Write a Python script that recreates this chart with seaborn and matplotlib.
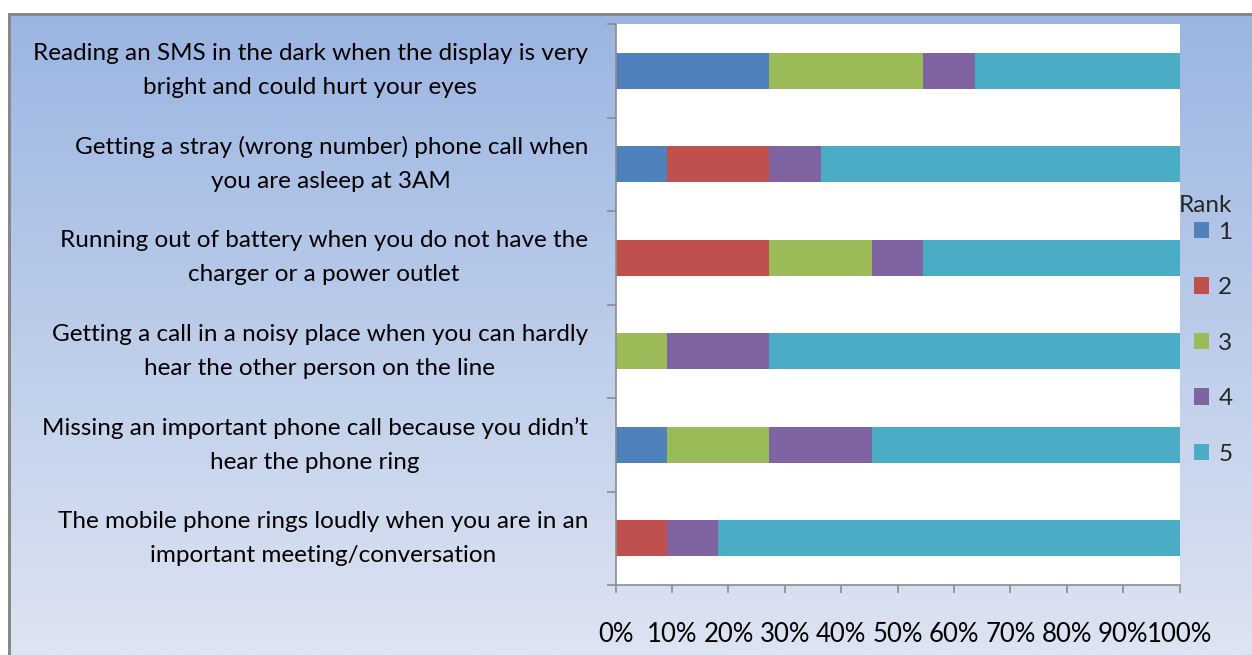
import numpy as np
import pandas as pd
import matplotlib
matplotlib.use("Agg")
import matplotlib.pyplot as plt
from matplotlib.patches import Patch, Rectangle
import seaborn as sns

# Survey situations (top to bottom) and number of respondents giving each rank
situations = [
    "Reading an SMS in the dark when the display is very\nbright and could hurt your eyes",
    "Getting a stray (wrong number) phone call when\nyou are asleep at 3AM",
    "Running out of battery when you do not have the\ncharger or a power outlet",
    "Getting a call in a noisy place when you can hardly\nhear the other person on the line",
    "Missing an important phone call because you didn\u2019t\nhear the phone ring",
    "The mobile phone rings loudly when you are in an\nimportant meeting/conversation",
]
ranks = ["1", "2", "3", "4", "5"]
rank1 = [3, 1, 0, 0, 1, 0]
rank2 = [0, 2, 3, 0, 0, 1]
rank3 = [3, 0, 2, 1, 2, 0]
rank4 = [1, 1, 1, 2, 2, 1]
rank5 = [4, 7, 5, 8, 6, 9]
x_tick_labels = ["0%", "10%", "20%", "30%", "40%", "50%", "60%", "70%", "80%", "90%", "100%"]

colors = ["#4F81BD", "#C0504D", "#9BBB59", "#8064A2", "#4BACC6"]

sns.set_theme(style="white")
plt.rcParams["font.family"] = ["Lato", "DejaVu Sans"]

W, H = 1252, 655
fig = plt.figure(figsize=(W / 100, H / 100), dpi=100)
fig.patch.set_facecolor("white")

# gradient chart-area background with grey frame on the top and left
bg = fig.add_axes([0, 0, 1, 1], zorder=-10)
bg.set_xlim(0, W)
bg.set_ylim(H, 0)
bg.axis("off")
top_c = np.array([0x9B, 0xB5, 0xE2]) / 255
bot_c = np.array([0xDD, 0xE4, 0xF2]) / 255
t = np.linspace(0, 1, 256)[:, None]
grad = (top_c[None, :] * (1 - t) + bot_c[None, :] * t)[:, None, :]
bg.imshow(grad, extent=[9, W, H, 15], aspect="auto", interpolation="bilinear")
bg.add_patch(Rectangle((7.5, 13), 3, H - 13, color="#888888", lw=0))
bg.add_patch(Rectangle((7.5, 13), W - 7.5, 3, color="#888888", lw=0))

# stacked 100% bars
counts = pd.DataFrame({"situation": situations, "1": rank1, "2": rank2,
                       "3": rank3, "4": rank4, "5": rank5})
totals = counts[ranks].sum(axis=1)
shares = counts[ranks].div(totals, axis=0) * 100
cum = shares.cumsum(axis=1)

l, r = 615.7 / W, 1179.6 / W
b, tp = 1 - 585 / H, 1 - 24 / H
ax = fig.add_axes([l, b, r - l, tp - b])
ax.set_facecolor("white")

for rk, col in reversed(list(zip(ranks, colors))):
    df = pd.DataFrame({"situation": situations, "value": cum[rk].values})
    sns.barplot(data=df, y="situation", x="value", orient="h", order=situations,
                color=col, width=0.39, saturation=1, linewidth=0, ax=ax)

n = len(situations)
ax.set_xlim(0, 100)
ax.set_ylim(n - 0.5, -0.5)
ax.set_xlabel("")
ax.set_ylabel("")

for s in ["top", "right"]:
    ax.spines[s].set_visible(False)
for s in ["left", "bottom"]:
    ax.spines[s].set_color("#8C8C8C")
    ax.spines[s].set_linewidth(1.2)

fs = 17.5
ax.set_xticks(np.arange(0, 101, 10))
ax.set_xticklabels(x_tick_labels, fontsize=18.5, color="black")
ax.tick_params(axis="x", which="major", direction="out", length=6, width=1.2,
               color="#8C8C8C", pad=21, bottom=True)

ax.set_yticks(np.arange(n + 1) - 0.5)
ax.set_yticklabels([])
ax.tick_params(axis="y", which="major", direction="out", length=6.5, width=1.2,
               color="#8C8C8C", left=True)
ax.set_yticks(np.arange(n), minor=True)
ax.set_yticklabels(situations, minor=True, fontsize=fs, color="black",
                   multialignment="center", linespacing=1.75, va="center")
ax.tick_params(axis="y", which="minor", length=0, pad=20)

handles = [Patch(facecolor=c, edgecolor="none") for c in colors]
leg = fig.legend(handles, ranks, title="Rank", loc="upper left",
                 bbox_to_anchor=(1179 / W, 1 - 195 / H), frameon=False,
                 fontsize=fs, title_fontsize=fs, handlelength=0.58,
                 handleheight=0.68, handletextpad=0.4, labelspacing=1.42,
                 borderaxespad=0, borderpad=0, alignment="right")
leg._legend_box.sep = 4

fig.savefig("out.png", dpi=100)
